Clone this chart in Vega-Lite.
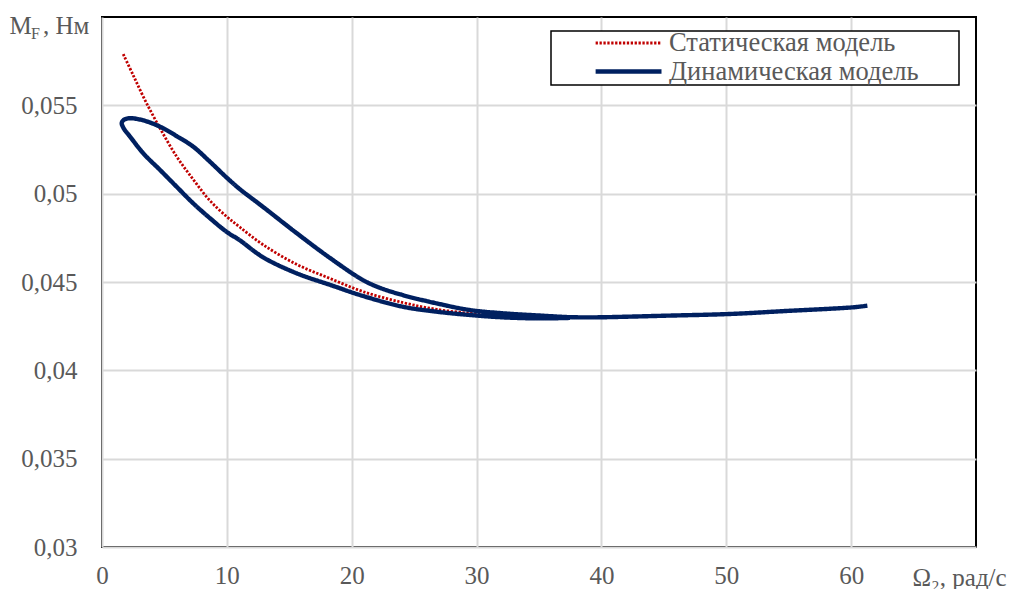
{
  "$schema": "https://vega.github.io/schema/vega-lite/v6.json",
  "width": 874,
  "height": 530,
  "autosize": {"type": "none"},
  "padding": {"left": 102, "top": 17, "right": 40, "bottom": 42},
  "background": "white",
  "config": {
    "locale": {"number": {"decimal": ",", "thousands": " ", "grouping": [3], "currency": ["", ""]}},
    "view": {"stroke": "black", "strokeWidth": 2},
    "font": "Liberation Serif, Times New Roman, serif",
    "axis": {
      "labelFont": "Liberation Serif, Times New Roman, serif",
      "labelFontSize": 25,
      "labelColor": "#595959",
      "labelFlush": false,
      "labelOverlap": false,
      "titleFont": "Liberation Serif, Times New Roman, serif",
      "titleFontSize": 25,
      "titleFontWeight": "normal",
      "titleColor": "#595959",
      "ticks": false,
      "domain": false,
      "gridColor": "#d9d9d9",
      "gridWidth": 2
    },
    "legend": {
      "symbolType": "M-0.22,0H1",
      "symbolSize": 11664,
      "clipHeight": 24,
      "labelFont": "Liberation Serif, Times New Roman, serif",
      "labelFontSize": 26.5,
      "labelColor": "#595959",
      "labelLimit": 0,
      "strokeColor": "black",
      "strokeWidth": 1.5,
      "fillColor": "white",
      "padding": 0,
      "rowPadding": 1.5,
      "labelOffset": 5
    }
  },
  "title": {
    "text": "F",
    "anchor": "start",
    "frame": "group",
    "font": "Liberation Serif, Times New Roman, serif",
    "fontSize": 16,
    "fontWeight": "normal",
    "color": "#595959",
    "dx": -71,
    "offset": -29
  },
  "data": {
    "values": [
      {"model": "Статическая модель", "i": 0, "x": 1.7, "y": 0.0579},
      {"model": "Статическая модель", "i": 1, "x": 2.5, "y": 0.0567},
      {"model": "Статическая модель", "i": 2, "x": 3.44, "y": 0.0553},
      {"model": "Статическая модель", "i": 3, "x": 4.65, "y": 0.0537},
      {"model": "Статическая модель", "i": 4, "x": 5.98, "y": 0.0521},
      {"model": "Статическая модель", "i": 5, "x": 7.31, "y": 0.0508},
      {"model": "Статическая модель", "i": 6, "x": 8.65, "y": 0.0496},
      {"model": "Статическая модель", "i": 7, "x": 9.99, "y": 0.0487},
      {"model": "Статическая модель", "i": 8, "x": 11.05, "y": 0.0481},
      {"model": "Статическая модель", "i": 9, "x": 12.92, "y": 0.0471},
      {"model": "Статическая модель", "i": 10, "x": 15.59, "y": 0.046},
      {"model": "Статическая модель", "i": 11, "x": 18.26, "y": 0.0452},
      {"model": "Статическая модель", "i": 12, "x": 20.93, "y": 0.04445},
      {"model": "Статическая модель", "i": 13, "x": 24.13, "y": 0.04383},
      {"model": "Статическая модель", "i": 14, "x": 26.81, "y": 0.04345},
      {"model": "Статическая модель", "i": 15, "x": 29.47, "y": 0.04323},
      {"model": "Статическая модель", "i": 16, "x": 30.3, "y": 0.0432},
      {"model": "Динамическая модель", "i": 0, "x": 61.3, "y": 0.04366},
      {"model": "Динамическая модель", "i": 1, "x": 60.2, "y": 0.04357},
      {"model": "Динамическая модель", "i": 2, "x": 54.8, "y": 0.04336},
      {"model": "Динамическая модель", "i": 3, "x": 50.3, "y": 0.04319},
      {"model": "Динамическая модель", "i": 4, "x": 45.0, "y": 0.04309},
      {"model": "Динамическая модель", "i": 5, "x": 42.3, "y": 0.04304},
      {"model": "Динамическая модель", "i": 6, "x": 39.6, "y": 0.043},
      {"model": "Динамическая модель", "i": 7, "x": 37.5, "y": 0.04301},
      {"model": "Динамическая модель", "i": 8, "x": 35.1, "y": 0.0431},
      {"model": "Динамическая модель", "i": 9, "x": 32.1, "y": 0.04323},
      {"model": "Динамическая модель", "i": 10, "x": 29.5, "y": 0.04341},
      {"model": "Динамическая модель", "i": 11, "x": 26.8, "y": 0.04379},
      {"model": "Динамическая модель", "i": 12, "x": 24.1, "y": 0.04426},
      {"model": "Динамическая модель", "i": 13, "x": 22.3, "y": 0.04466},
      {"model": "Динамическая модель", "i": 14, "x": 20.9, "y": 0.04511},
      {"model": "Динамическая модель", "i": 15, "x": 18.3, "y": 0.04634},
      {"model": "Динамическая модель", "i": 16, "x": 15.6, "y": 0.04776},
      {"model": "Динамическая модель", "i": 17, "x": 12.9, "y": 0.04925},
      {"model": "Динамическая модель", "i": 18, "x": 11.05, "y": 0.05025},
      {"model": "Динамическая модель", "i": 19, "x": 10.0, "y": 0.0509},
      {"model": "Динамическая модель", "i": 20, "x": 8.6, "y": 0.05184},
      {"model": "Динамическая модель", "i": 21, "x": 7.31, "y": 0.05266},
      {"model": "Динамическая модель", "i": 22, "x": 6.0, "y": 0.05325},
      {"model": "Динамическая модель", "i": 23, "x": 4.65, "y": 0.05379},
      {"model": "Динамическая модель", "i": 24, "x": 3.3, "y": 0.05415},
      {"model": "Динамическая модель", "i": 25, "x": 2.24, "y": 0.05427},
      {"model": "Динамическая модель", "i": 26, "x": 1.75, "y": 0.05418},
      {"model": "Динамическая модель", "i": 27, "x": 1.58, "y": 0.054},
      {"model": "Динамическая модель", "i": 28, "x": 1.72, "y": 0.05372},
      {"model": "Динамическая модель", "i": 29, "x": 2.3, "y": 0.05318},
      {"model": "Динамическая модель", "i": 30, "x": 3.31, "y": 0.05228},
      {"model": "Динамическая модель", "i": 31, "x": 4.65, "y": 0.05134},
      {"model": "Динамическая модель", "i": 32, "x": 5.98, "y": 0.05039},
      {"model": "Динамическая модель", "i": 33, "x": 7.31, "y": 0.04945},
      {"model": "Динамическая модель", "i": 34, "x": 8.65, "y": 0.04861},
      {"model": "Динамическая модель", "i": 35, "x": 10.0, "y": 0.04783},
      {"model": "Динамическая модель", "i": 36, "x": 11.0, "y": 0.04738},
      {"model": "Динамическая модель", "i": 37, "x": 12.9, "y": 0.0464},
      {"model": "Динамическая модель", "i": 38, "x": 15.6, "y": 0.04549},
      {"model": "Динамическая модель", "i": 39, "x": 18.3, "y": 0.04483},
      {"model": "Динамическая модель", "i": 40, "x": 20.9, "y": 0.04421},
      {"model": "Динамическая модель", "i": 41, "x": 24.1, "y": 0.0436},
      {"model": "Динамическая модель", "i": 42, "x": 26.8, "y": 0.04332},
      {"model": "Динамическая модель", "i": 43, "x": 29.5, "y": 0.04313},
      {"model": "Динамическая модель", "i": 44, "x": 32.1, "y": 0.043},
      {"model": "Динамическая модель", "i": 45, "x": 35.1, "y": 0.04294},
      {"model": "Динамическая модель", "i": 46, "x": 37.5, "y": 0.04297}
    ]
  },
  "mark": {"type": "line", "interpolate": "catmull-rom", "strokeCap": "butt", "strokeJoin": "round"},
  "encoding": {
    "x": {
      "field": "x",
      "type": "quantitative",
      "scale": {"domain": [0, 70], "nice": false, "zero": false},
      "axis": {
        "values": [0, 10, 20, 30, 40, 50, 60],
        "format": "d",
        "labelPadding": 16,
        "title": "Ω₂, рад/с",
        "titleX": 810,
        "titleY": 38,
        "titleAlign": "left",
        "titleAnchor": "start",
        "titleBaseline": "alphabetic"
      }
    },
    "y": {
      "field": "y",
      "type": "quantitative",
      "scale": {"domain": [0.03, 0.06], "nice": false, "zero": false},
      "axis": {
        "values": [0.03, 0.035, 0.04, 0.045, 0.05, 0.055],
        "format": ".3~f",
        "labelPadding": 25,
        "title": "M\u00a0\u2009, Нм",
        "titleAngle": 0,
        "titleX": -93,
        "titleY": 16,
        "titleAlign": "left",
        "titleAnchor": "start",
        "titleBaseline": "alphabetic"
      }
    },
    "order": {"field": "i", "type": "quantitative"},
    "color": {
      "field": "model",
      "type": "nominal",
      "scale": {"domain": ["Статическая модель", "Динамическая модель"], "range": ["#C00000", "#002060"]},
      "legend": {"orient": "none", "legendX": 449, "legendY": 14, "title": null, "labelExpr": "datum.label + '\u00a0\u00a0\u00a0\u00a0\u00a0\u00a0\u200b'"}
    },
    "strokeDash": {
      "field": "model",
      "type": "nominal",
      "scale": {"domain": ["Статическая модель", "Динамическая модель"], "range": [[2.3, 1.6], [1, 0]]},
      "legend": {"orient": "none", "legendX": 449, "legendY": 14, "title": null, "labelExpr": "datum.label + '\u00a0\u00a0\u00a0\u00a0\u00a0\u00a0\u200b'"}
    },
    "strokeWidth": {
      "field": "model",
      "type": "nominal",
      "scale": {"domain": ["Статическая модель", "Динамическая модель"], "range": [2.8, 4.4]},
      "legend": {"orient": "none", "legendX": 449, "legendY": 14, "title": null, "labelExpr": "datum.label + '\u00a0\u00a0\u00a0\u00a0\u00a0\u00a0\u200b'"}
    }
  }
}
